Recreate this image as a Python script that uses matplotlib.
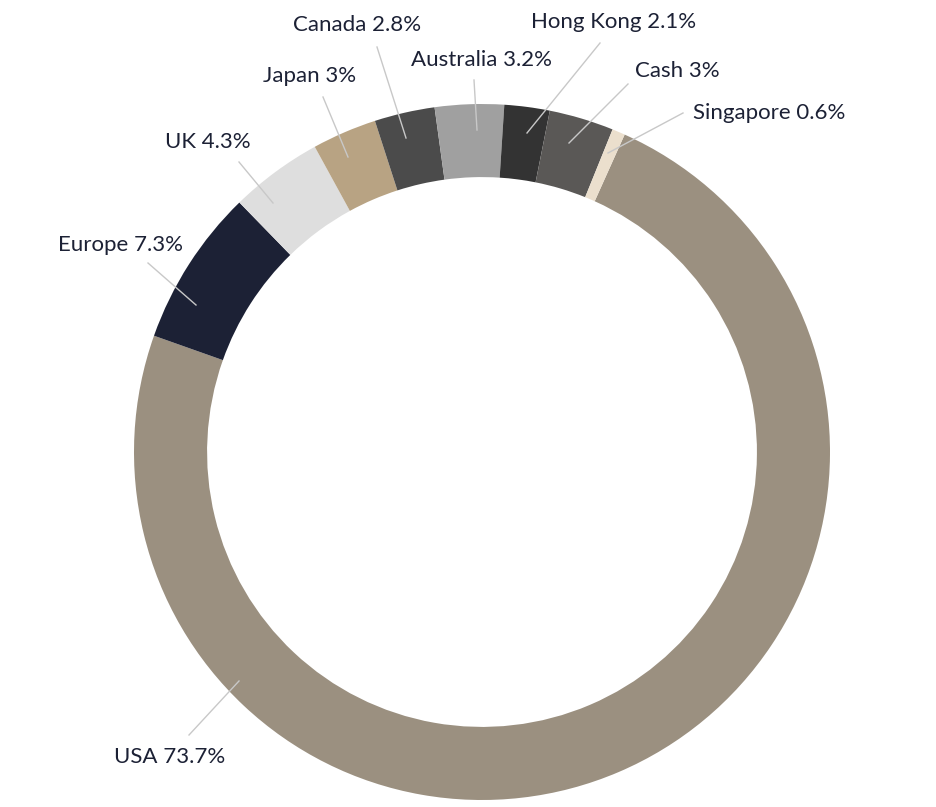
import matplotlib
matplotlib.use("Agg")
import matplotlib.pyplot as plt

# slice data, clockwise from USA
regions = ["USA", "Europe", "UK", "Japan", "Canada", "Australia", "Hong Kong", "Cash", "Singapore"]
weights = [73.7, 7.3, 4.3, 3, 2.8, 3.2, 2.1, 3, 0.6]
colors = ["#9b9080", "#1c2135", "#dedede", "#b8a383", "#4b4b4b",
          "#a0a0a0", "#333333", "#5a5856", "#ebdfcd"]

# label layout in pixels: text centre, leader line start (on ring) and end
text_px = [(170, 757), (120, 245), (208, 142), (310, 76), (357, 25),
           (482, 60), (614, 22), (677, 71), (769, 113)]
line_a = [(239, 681), (196, 305), (273, 203), (348, 157), (406, 138),
          (477, 130), (527, 133), (569, 143), (608, 153)]
line_b = [(189, 735), (148, 263), (239, 162), (323, 97), (377, 47),
          (474, 80), (600, 43), (628, 84), (683, 113)]

W, H = 937, 807
cx, cy, R = 482, 452, 348
start = 65.8  # degrees, ccw from +x


def to_data(p):
    return ((p[0] - cx) / R, (cy - p[1]) / R)


plt.rcParams['font.family'] = ['Lato', 'DejaVu Sans']
fig = plt.figure(figsize=(W / 100, H / 100), dpi=100)
ax = fig.add_axes([0, 0, 1, 1])
ax.pie(weights, colors=colors, startangle=start, counterclock=False,
       radius=1, wedgeprops=dict(width=0.21, linewidth=0))
ax.set_xlim(-cx / R, (W - cx) / R)
ax.set_ylim((cy - H) / R, cy / R)
ax.set_aspect('equal')
ax.axis('off')

for name, w, tp, a, b in zip(regions, weights, text_px, line_a, line_b):
    x0, y0 = to_data(a)
    x1, y1 = to_data(b)
    ax.plot([x0, x1], [y0, y1], color="#c8c8c8", lw=1)
    tx, ty = to_data(tp)
    ax.text(tx, ty, f"{name} {w:g}%", ha='center', va='center',
            fontsize=16, color="#1c2135")

fig.savefig("out.png", dpi=100)
